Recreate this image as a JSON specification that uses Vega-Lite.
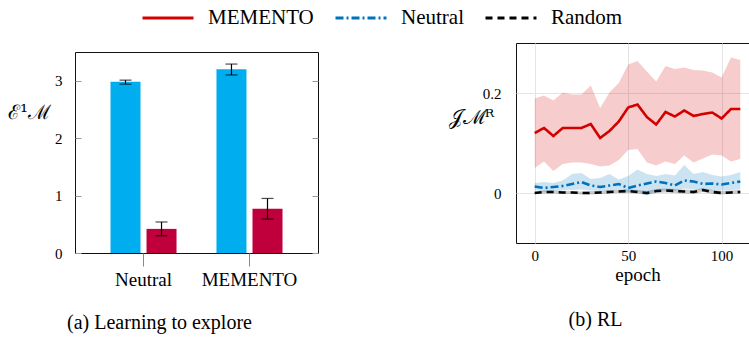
{
  "$schema": "https://vega.github.io/schema/vega-lite/v6.json",
  "padding": {"left": 6, "top": -9, "right": 0, "bottom": 5},
  "config": {
    "font": "Liberation Serif",
    "view": {"stroke": "#111", "strokeWidth": 1},
    "axis": {"domain": false, "labelFont": "Liberation Serif", "labelColor": "#000", "labelFontSize": 15, "titleFont": "DejaVu Serif", "titleColor": "#000", "titleFontWeight": "normal", "titleFontSize": 20},
    "title": {"font": "Liberation Serif", "fontSize": 20, "fontWeight": "normal", "color": "#000"},
    "legend": {"labelFont": "Liberation Serif", "labelFontSize": 21, "labelColor": "#000"}
  },
  "spacing": 128,
  "resolve": {"scale": {"color": "shared", "strokeDash": "shared"}},
  "hconcat": [
    {
      "spacing": 7,
      "vconcat": [
        {
          "data": {"values": [{}]},
          "mark": {"type": "rule", "opacity": 0},
          "encoding": {},
          "width": 1,
          "height": 1,
          "view": {"stroke": null}
        },
        {
          "width": 243,
          "height": 201,
          "title": {"text": "(a) Learning to explore", "orient": "bottom", "anchor": "middle", "dx": -37, "offset": 24},
          "data": {"values": [
            {"method": "Neutral", "series": "A", "value": 2.98, "lo": 2.94, "hi": 3.01},
            {"method": "Neutral", "series": "B", "value": 0.42, "lo": 0.30, "hi": 0.54},
            {"method": "MEMENTO", "series": "A", "value": 3.20, "lo": 3.10, "hi": 3.29},
            {"method": "MEMENTO", "series": "B", "value": 0.77, "lo": 0.59, "hi": 0.95}
          ]},
          "encoding": {
            "x": {"field": "method", "type": "nominal", "sort": ["Neutral", "MEMENTO"],
                  "scale": {"paddingInner": 0.377, "paddingOuter": 0.335},
                  "axis": {"title": null, "labelAngle": 0, "tickSize": 13, "tickColor": "#888", "labelFontSize": 19, "labelPadding": 4}},
            "xOffset": {"field": "series", "type": "nominal", "scale": {"paddingInner": 0.167, "paddingOuter": 0}}
          },
          "resolve": {"axis": {"y": "independent"}},
          "layer": [
            {
              "mark": {"type": "bar"},
              "encoding": {
                "y": {"field": "value", "type": "quantitative", "scale": {"domain": [0, 3.5], "nice": false},
                      "axis": {"values": [0, 1, 2, 3], "title": "ℰ¹ℳ", "titleAngle": 0, "titleX": -46, "titleY": 60, "titleAlign": "center", "titleBaseline": "middle", "tickSize": -6, "tickColor": "#999", "labelPadding": 19, "grid": false}},
                "fill": {"field": "series", "type": "nominal", "scale": {"domain": ["A", "B"], "range": ["#00aeef", "#c0003c"]}, "legend": null}
              }
            },
            {
              "mark": {"type": "rule", "color": "#000", "strokeWidth": 1.2},
              "encoding": {
                "y": {"field": "lo", "type": "quantitative", "axis": null},
                "y2": {"field": "hi"}
              }
            },
            {
              "mark": {"type": "tick", "color": "#000", "size": 12, "thickness": 1.2},
              "encoding": {"y": {"field": "lo", "type": "quantitative", "axis": null}}
            },
            {
              "mark": {"type": "tick", "color": "#000", "size": 12, "thickness": 1.2},
              "encoding": {"y": {"field": "hi", "type": "quantitative",
                "axis": {"orient": "right", "values": [0, 1, 2, 3], "labels": false, "tickSize": -6, "tickColor": "#999", "title": null, "grid": false}}}
            }
          ]
        }
      ]
    },
    {
      "width": 243,
      "height": 200,
      "title": {"text": "(b) RL", "orient": "bottom", "anchor": "middle", "dx": -42, "offset": 26},
      "data": {"values": [
        {"method": "MEMENTO", "epoch": 0, "mean": 0.120, "lo": 0.050, "hi": 0.189},
        {"method": "MEMENTO", "epoch": 5, "mean": 0.130, "lo": 0.063, "hi": 0.195},
        {"method": "MEMENTO", "epoch": 10, "mean": 0.114, "lo": 0.044, "hi": 0.185},
        {"method": "MEMENTO", "epoch": 15, "mean": 0.130, "lo": 0.058, "hi": 0.201},
        {"method": "MEMENTO", "epoch": 20, "mean": 0.130, "lo": 0.061, "hi": 0.197},
        {"method": "MEMENTO", "epoch": 25, "mean": 0.130, "lo": 0.061, "hi": 0.197},
        {"method": "MEMENTO", "epoch": 30, "mean": 0.138, "lo": 0.058, "hi": 0.215},
        {"method": "MEMENTO", "epoch": 35, "mean": 0.110, "lo": 0.053, "hi": 0.170},
        {"method": "MEMENTO", "epoch": 40, "mean": 0.124, "lo": 0.055, "hi": 0.201},
        {"method": "MEMENTO", "epoch": 45, "mean": 0.143, "lo": 0.066, "hi": 0.220},
        {"method": "MEMENTO", "epoch": 50, "mean": 0.171, "lo": 0.086, "hi": 0.257},
        {"method": "MEMENTO", "epoch": 55, "mean": 0.177, "lo": 0.088, "hi": 0.264},
        {"method": "MEMENTO", "epoch": 60, "mean": 0.152, "lo": 0.061, "hi": 0.243},
        {"method": "MEMENTO", "epoch": 65, "mean": 0.137, "lo": 0.055, "hi": 0.223},
        {"method": "MEMENTO", "epoch": 70, "mean": 0.162, "lo": 0.063, "hi": 0.254},
        {"method": "MEMENTO", "epoch": 75, "mean": 0.153, "lo": 0.058, "hi": 0.248},
        {"method": "MEMENTO", "epoch": 80, "mean": 0.165, "lo": 0.075, "hi": 0.251},
        {"method": "MEMENTO", "epoch": 85, "mean": 0.154, "lo": 0.061, "hi": 0.246},
        {"method": "MEMENTO", "epoch": 90, "mean": 0.158, "lo": 0.069, "hi": 0.245},
        {"method": "MEMENTO", "epoch": 95, "mean": 0.161, "lo": 0.077, "hi": 0.241},
        {"method": "MEMENTO", "epoch": 100, "mean": 0.149, "lo": 0.075, "hi": 0.231},
        {"method": "MEMENTO", "epoch": 105, "mean": 0.168, "lo": 0.063, "hi": 0.271},
        {"method": "MEMENTO", "epoch": 110, "mean": 0.168, "lo": 0.068, "hi": 0.266},
        {"method": "Neutral", "epoch": 0, "mean": 0.013, "lo": 0.007, "hi": 0.020},
        {"method": "Neutral", "epoch": 5, "mean": 0.010, "lo": 0.002, "hi": 0.022},
        {"method": "Neutral", "epoch": 10, "mean": 0.012, "lo": 0.004, "hi": 0.020},
        {"method": "Neutral", "epoch": 15, "mean": 0.014, "lo": 0.005, "hi": 0.025},
        {"method": "Neutral", "epoch": 20, "mean": 0.018, "lo": 0.006, "hi": 0.038},
        {"method": "Neutral", "epoch": 25, "mean": 0.022, "lo": 0.007, "hi": 0.040},
        {"method": "Neutral", "epoch": 30, "mean": 0.015, "lo": 0.005, "hi": 0.028},
        {"method": "Neutral", "epoch": 35, "mean": 0.012, "lo": 0.004, "hi": 0.030},
        {"method": "Neutral", "epoch": 40, "mean": 0.015, "lo": 0.005, "hi": 0.038},
        {"method": "Neutral", "epoch": 45, "mean": 0.018, "lo": 0.006, "hi": 0.027},
        {"method": "Neutral", "epoch": 50, "mean": 0.010, "lo": 0.002, "hi": 0.034},
        {"method": "Neutral", "epoch": 55, "mean": 0.015, "lo": 0.003, "hi": 0.047},
        {"method": "Neutral", "epoch": 60, "mean": 0.019, "lo": -0.005, "hi": 0.038},
        {"method": "Neutral", "epoch": 65, "mean": 0.023, "lo": 0.004, "hi": 0.034},
        {"method": "Neutral", "epoch": 70, "mean": 0.020, "lo": 0.005, "hi": 0.038},
        {"method": "Neutral", "epoch": 75, "mean": 0.015, "lo": 0.005, "hi": 0.035},
        {"method": "Neutral", "epoch": 80, "mean": 0.025, "lo": 0.009, "hi": 0.056},
        {"method": "Neutral", "epoch": 85, "mean": 0.023, "lo": 0.007, "hi": 0.038},
        {"method": "Neutral", "epoch": 90, "mean": 0.018, "lo": 0.006, "hi": 0.042},
        {"method": "Neutral", "epoch": 95, "mean": 0.019, "lo": 0.005, "hi": 0.036},
        {"method": "Neutral", "epoch": 100, "mean": 0.017, "lo": 0.005, "hi": 0.033},
        {"method": "Neutral", "epoch": 105, "mean": 0.020, "lo": 0.006, "hi": 0.036},
        {"method": "Neutral", "epoch": 110, "mean": 0.023, "lo": 0.007, "hi": 0.042},
        {"method": "Random", "epoch": 0, "mean": 0.000, "lo": -0.002, "hi": 0.003},
        {"method": "Random", "epoch": 5, "mean": 0.002, "lo": -0.001, "hi": 0.005},
        {"method": "Random", "epoch": 10, "mean": 0.002, "lo": -0.001, "hi": 0.005},
        {"method": "Random", "epoch": 15, "mean": 0.001, "lo": -0.002, "hi": 0.004},
        {"method": "Random", "epoch": 20, "mean": 0.001, "lo": -0.002, "hi": 0.004},
        {"method": "Random", "epoch": 25, "mean": 0.000, "lo": -0.003, "hi": 0.003},
        {"method": "Random", "epoch": 30, "mean": 0.000, "lo": -0.003, "hi": 0.004},
        {"method": "Random", "epoch": 35, "mean": 0.001, "lo": -0.002, "hi": 0.004},
        {"method": "Random", "epoch": 40, "mean": 0.002, "lo": -0.001, "hi": 0.006},
        {"method": "Random", "epoch": 45, "mean": 0.003, "lo": 0.000, "hi": 0.006},
        {"method": "Random", "epoch": 50, "mean": 0.004, "lo": 0.000, "hi": 0.007},
        {"method": "Random", "epoch": 55, "mean": 0.002, "lo": -0.001, "hi": 0.006},
        {"method": "Random", "epoch": 60, "mean": 0.000, "lo": -0.004, "hi": 0.004},
        {"method": "Random", "epoch": 65, "mean": 0.004, "lo": 0.000, "hi": 0.008},
        {"method": "Random", "epoch": 70, "mean": 0.005, "lo": 0.001, "hi": 0.009},
        {"method": "Random", "epoch": 75, "mean": 0.004, "lo": 0.000, "hi": 0.008},
        {"method": "Random", "epoch": 80, "mean": 0.003, "lo": -0.001, "hi": 0.007},
        {"method": "Random", "epoch": 85, "mean": 0.002, "lo": -0.002, "hi": 0.006},
        {"method": "Random", "epoch": 90, "mean": 0.006, "lo": 0.002, "hi": 0.010},
        {"method": "Random", "epoch": 95, "mean": 0.002, "lo": -0.002, "hi": 0.006},
        {"method": "Random", "epoch": 100, "mean": 0.000, "lo": -0.003, "hi": 0.004},
        {"method": "Random", "epoch": 105, "mean": 0.001, "lo": -0.002, "hi": 0.005},
        {"method": "Random", "epoch": 110, "mean": 0.002, "lo": -0.001, "hi": 0.006}
      ]},
      "encoding": {
        "x": {"field": "epoch", "type": "quantitative", "scale": {"domain": [-10, 120], "nice": false, "zero": false},
              "axis": {"values": [0, 50, 100], "grid": true, "gridColor": "#e4e4e4", "ticks": false, "labelPadding": 5, "title": "epoch", "titleFont": "Liberation Serif", "titleFontSize": 19, "titlePadding": 2}}
      },
      "layer": [
        {
          "mark": {"type": "line", "strokeWidth": 2.6},
          "encoding": {
            "y": {"field": "mean", "type": "quantitative", "scale": {"domain": [-0.1, 0.3], "nice": false},
                  "axis": {"values": [0, 0.2], "format": "~g", "grid": true, "gridColor": "#e4e4e4", "ticks": false, "labelPadding": 15, "title": "𝒥ℳᴿ", "titleAngle": 0, "titleX": -45, "titleY": 74, "titleAlign": "center", "titleBaseline": "middle"}},
            "color": {"field": "method", "type": "nominal", "scale": {"domain": ["MEMENTO", "Neutral", "Random"], "range": ["#d40000", "#0072bd", "#000000"]},
                      "legend": {"orient": "none", "legendX": 66, "legendY": -52, "direction": "horizontal", "title": null, "symbolType": "stroke", "symbolSize": 2600, "symbolStrokeWidth": 3, "labelOffset": 13, "columnPadding": 15}},
            "strokeDash": {"field": "method", "type": "nominal", "scale": {"domain": ["MEMENTO", "Neutral", "Random"], "range": [[1, 0], [8, 3, 2, 3], [7, 5]]},
                       "legend": {"orient": "none", "legendX": 66, "legendY": -52, "direction": "horizontal", "title": null, "symbolType": "stroke", "symbolSize": 2600, "symbolStrokeWidth": 3, "labelOffset": 13, "columnPadding": 15}}
          }
        },
        {
          "mark": {"type": "area", "fillOpacity": 0.2},
          "encoding": {
            "y": {"field": "lo", "type": "quantitative",
                  "axis": {"values": [0, 0.2], "format": "~g", "grid": true, "gridColor": "#e4e4e4", "ticks": false, "labelPadding": 15, "title": "𝒥ℳᴿ", "titleAngle": 0, "titleX": -45, "titleY": 74, "titleAlign": "center", "titleBaseline": "middle"}},
            "y2": {"field": "hi"},
            "color": {"field": "method", "type": "nominal",
                      "legend": {"orient": "none", "legendX": 66, "legendY": -52, "direction": "horizontal", "title": null, "symbolType": "stroke", "symbolSize": 2600, "symbolStrokeWidth": 3, "labelOffset": 13, "columnPadding": 15}}
          }
        }
      ]
    }
  ]
}
